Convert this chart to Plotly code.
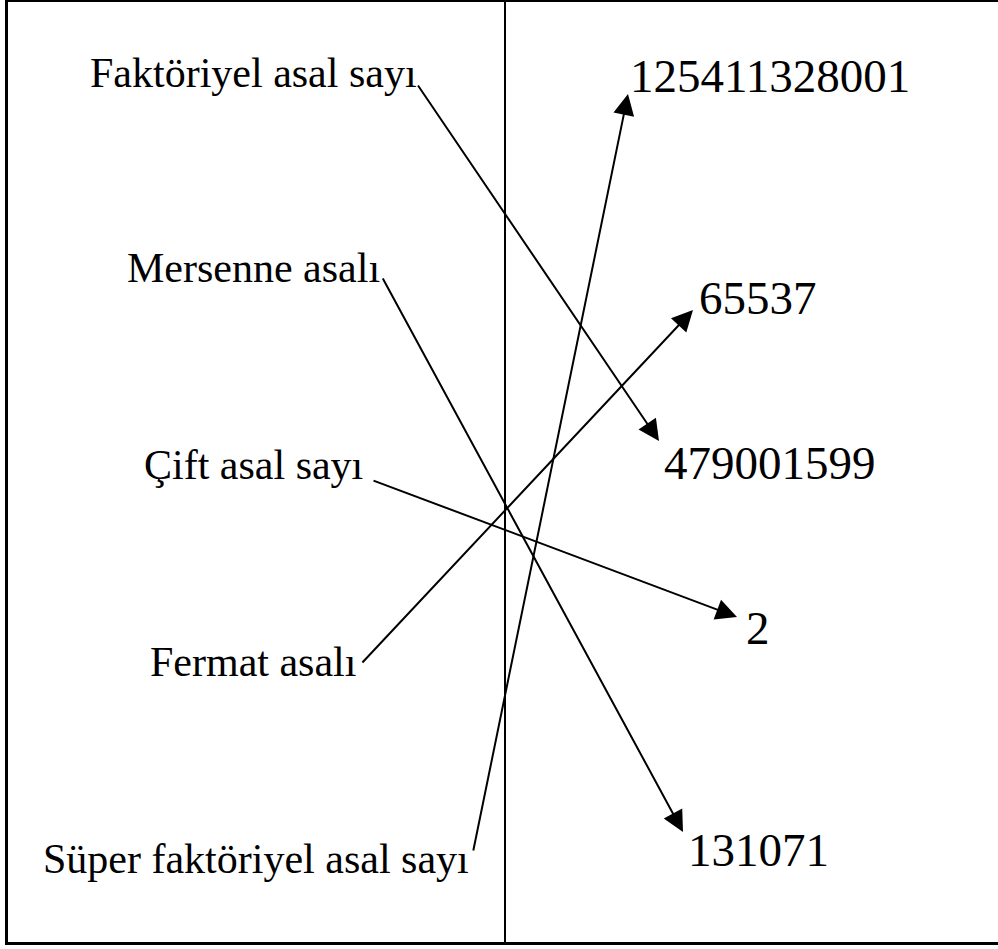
import plotly.graph_objects as go

# ---- data ----
left_labels = ["Faktöriyel asal sayı", "Mersenne asalı", "Çift asal sayı",
               "Fermat asalı", "Süper faktöriyel asal sayı"]
right_labels = ["125411328001", "65537", "479001599", "2", "131071"]
# match: left index -> right index
matches = [2, 4, 3, 1, 0]

# ---- layout positions (pixels) ----
W, H = 998, 949
left_x = [253, 253, 253, 253, 256]
left_y = [73, 268, 465, 662, 859]
right_x = [770, 758, 770, 758, 758]
right_y = [76, 298, 463, 628, 850]
# arrow start (left label end) and tip (near right label)
start_pts = [(417, 84), (382, 277), (372, 480), (361, 664), (473, 852)]
tip_pts = {0: (628, 94), 1: (693, 310), 2: (659, 441), 3: (737, 617), 4: (683, 832)}

FONT = "Liberation Serif, Times New Roman, serif"

fig = go.Figure()
annotations = []
for lbl, x, y in zip(left_labels, left_x, left_y):
    annotations.append(dict(x=x, y=y, xref="x", yref="y", text=lbl, showarrow=False,
                            xanchor="center", yanchor="middle",
                            font=dict(family=FONT, size=42, color="black")))
for lbl, x, y in zip(right_labels, right_x, right_y):
    annotations.append(dict(x=x, y=y, xref="x", yref="y", text=lbl, showarrow=False,
                            xanchor="center", yanchor="middle",
                            font=dict(family=FONT, size=47, color="black")))
for i, j in enumerate(matches):
    sx, sy = start_pts[i]
    tx, ty = tip_pts[j]
    annotations.append(dict(x=tx, y=ty, ax=sx, ay=sy, xref="x", yref="y",
                            axref="x", ayref="y", text="", showarrow=True,
                            arrowhead=2, arrowsize=2.1, arrowwidth=2,
                            arrowcolor="black", standoff=0, startstandoff=0))

shapes = [
    dict(type="line", x0=6.5, x1=6.5, y0=0, y1=943.5, xref="x", yref="y",
         line=dict(color="black", width=3)),
    dict(type="line", x0=5, x1=W, y0=1, y1=1, xref="x", yref="y",
         line=dict(color="black", width=2)),
    dict(type="line", x0=5, x1=W, y0=943.5, y1=943.5, xref="x", yref="y",
         line=dict(color="black", width=3)),
    dict(type="line", x0=505, x1=505, y0=0, y1=943.5, xref="x", yref="y",
         line=dict(color="black", width=2)),
]

fig.update_layout(
    width=W, height=H,
    margin=dict(l=0, r=0, t=0, b=0),
    paper_bgcolor="white", plot_bgcolor="white",
    xaxis=dict(range=[0, W], visible=False, fixedrange=True),
    yaxis=dict(range=[H, 0], visible=False, fixedrange=True),
    annotations=annotations, shapes=shapes,
    showlegend=False,
)
fig.write_html("out.html", config={"displayModeBar": False},
               post_script="document.body.style.margin='0';document.body.style.overflow='hidden';")
